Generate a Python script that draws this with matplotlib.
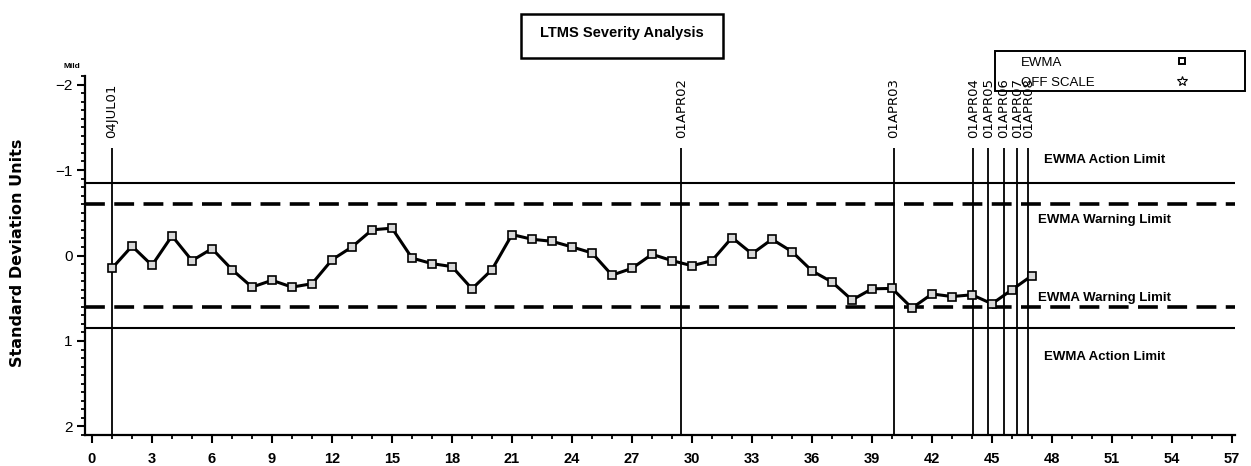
"""LTMS severity analysis: EWMA control chart in standard deviation units."""
import matplotlib
matplotlib.use("Agg")
import matplotlib.lines as mlines
import matplotlib.patches as mpatches
import matplotlib.pyplot as plt
from matplotlib.ticker import MultipleLocator

# run number and EWMA value (standard deviation units, negative = mild)
RUNS = list(range(1, 48))
EWMA = [
    0.15, -0.11, 0.115, -0.23, 0.06, -0.08, 0.165, 0.37, 0.29, 0.37,
    0.33, 0.05, -0.10, -0.30, -0.32, 0.03, 0.095, 0.13, 0.39, 0.165,
    -0.245, -0.19, -0.166, -0.10, -0.03, 0.23, 0.15, -0.014, 0.06, 0.12,
    0.06, -0.21, -0.02, -0.19, -0.045, 0.18, 0.31, 0.52, 0.39, 0.385,
    0.615, 0.45, 0.48, 0.46, 0.565, 0.40, 0.235,
]

ACTION_LIMIT = 0.85
WARNING_LIMIT = 0.60

# reference dates drawn as vertical markers
EVENT_X = [1.0, 29.46, 40.08, 44.07, 44.81, 45.58, 46.27, 46.81]
EVENT_LABELS = ["04JUL01", "01APR02", "01APR03", "01APR04",
                "01APR05", "01APR06", "01APR07", "01APR08"]

plt.rcParams["font.family"] = ["Liberation Sans", "DejaVu Sans"]

fig = plt.figure(figsize=(12.51, 4.66), dpi=100)
ax = fig.add_axes([85 / 1251, 31 / 466, 1150 / 1251, 359 / 466])

ax.set_xlim(-0.35, 57.15)
ax.set_ylim(2.1, -2.1)
for s in ("top", "right"):
    ax.spines[s].set_visible(False)
for s in ("left", "bottom"):
    ax.spines[s].set_linewidth(1.6)

ax.xaxis.set_major_locator(MultipleLocator(3))
ax.xaxis.set_minor_locator(MultipleLocator(1))
ax.yaxis.set_major_locator(MultipleLocator(1))
ax.yaxis.set_minor_locator(MultipleLocator(0.1))
ax.tick_params(which="major", length=6, width=1.5, direction="out")
ax.tick_params(which="minor", length=3, width=1.3, direction="out")
ax.tick_params(axis="x", labelsize=10.5, pad=6)
ax.tick_params(axis="y", labelsize=11, pad=3)
for lab in ax.get_xticklabels():
    lab.set_fontweight("bold")

# control limits
for v in (-ACTION_LIMIT, ACTION_LIMIT):
    ax.axhline(v, color="black", linewidth=1.5, zorder=2)
for v in (-WARNING_LIMIT, WARNING_LIMIT):
    ax.axhline(v, color="black", linewidth=2.6, dashes=(5.5, 2.6), zorder=2)

# event markers
ax.vlines(EVENT_X, -1.26, 2.1, color="black", linewidth=1.3, zorder=2)
for x, lab in zip(EVENT_X, EVENT_LABELS):
    ax.text(x, -1.38, lab, rotation=90, ha="center", va="bottom",
            fontsize=9.5, family=["DejaVu Sans"], clip_on=False)

ax.plot(RUNS, EWMA, color="black", linewidth=2.2, marker="s",
        markersize=5.5, markerfacecolor="#d8d8d8", markeredgecolor="black",
        markeredgewidth=1.2, zorder=5)

for y, txt in [(-1.12, "EWMA Action Limit"), (-0.41, "EWMA Warning Limit"),
               (0.50, "EWMA Warning Limit"), (1.19, "EWMA Action Limit")]:
    ax.text(50.65, y, txt, ha="center", va="center", fontsize=9.5,
            fontweight="bold")

fig.text(18 / 1251, 1 - 253 / 466, "Standard Deviation Units", rotation=90,
         fontsize=11.5, fontweight="bold", family=["DejaVu Sans"],
         ha="center", va="center")
fig.text(72 / 1251, 1 - 67 / 466, "Mild", fontsize=6, fontweight="bold",
         ha="center", va="center")

# title box
fig.patches.append(mpatches.Rectangle(
    (521 / 1251, 1 - 58 / 466), 202 / 1251, 44 / 466, fill=False,
    linewidth=1.8, edgecolor="black", transform=fig.transFigure))
fig.text(622 / 1251, 1 - 33 / 466, "LTMS Severity Analysis", fontsize=10.5,
         fontweight="bold", ha="center", va="center")

# legend box
fig.patches.append(mpatches.Rectangle(
    (995 / 1251, 1 - 91 / 466), 250 / 1251, 40 / 466, fill=False,
    linewidth=1.4, edgecolor="black", transform=fig.transFigure))
fig.text(1021 / 1251, 1 - 63 / 466, "EWMA", fontsize=9.5, ha="left",
         va="center")
fig.text(1021 / 1251, 1 - 83 / 466, "OFF SCALE", fontsize=9.5, ha="left",
         va="center")
fig.lines.append(mlines.Line2D([1182 / 1251], [1 - 61 / 466], marker="s",
                               markersize=5, markerfacecolor="white",
                               markeredgecolor="black", markeredgewidth=1.4,
                               linestyle="none", transform=fig.transFigure))
fig.lines.append(mlines.Line2D([1182 / 1251], [1 - 81 / 466], marker="*",
                               markersize=7, markerfacecolor="white",
                               markeredgecolor="black", markeredgewidth=0.8,
                               linestyle="none", transform=fig.transFigure))

fig.savefig("out.png", dpi=100)
